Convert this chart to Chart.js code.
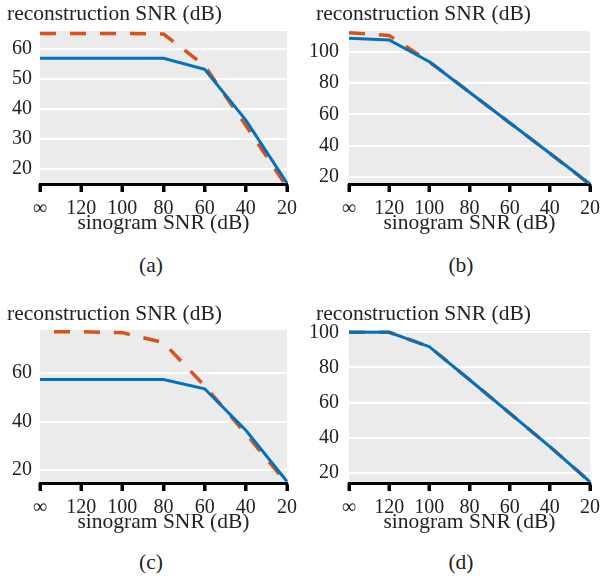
<!DOCTYPE html>
<html>
<head>
<meta charset="utf-8">
<script src="https://cdn.jsdelivr.net/npm/chart.js@4.4.0/dist/chart.umd.min.js"></script>
<style>
  body { margin: 0; background: #fff; }
  #wrap { position: relative; width: 605px; height: 576px; overflow: hidden; }
  .panel { position: absolute; width: 302px; height: 300px; }
  .panel canvas { position: absolute; left: 0; top: 0; }
  .ytitle, .caption {
    position: absolute;
    font-family: "Liberation Serif", "Times New Roman", Tinos, Times, "DejaVu Serif", serif;
    font-size: 21.5px; line-height: 24px; color: #222; white-space: nowrap;
  }
  .caption { width: 60px; text-align: center; }
</style>
</head>
<body>
<div id="wrap">
  <div class="panel" style="left:0;top:0">
    <canvas id="chartA" width="302" height="240"></canvas>
    <div class="ytitle" style="left:7px;top:1px">reconstruction SNR (dB)</div>
    <div class="caption" style="left:121px;top:253px">(a)</div>
  </div>
  <div class="panel" style="left:303px;top:0">
    <canvas id="chartB" width="302" height="240"></canvas>
    <div class="ytitle" style="left:13px;top:1px">reconstruction SNR (dB)</div>
    <div class="caption" style="left:128px;top:253px">(b)</div>
  </div>
  <div class="panel" style="left:0;top:299px">
    <canvas id="chartC" width="302" height="240"></canvas>
    <div class="ytitle" style="left:7px;top:2px">reconstruction SNR (dB)</div>
    <div class="caption" style="left:121px;top:251px">(c)</div>
  </div>
  <div class="panel" style="left:303px;top:299px">
    <canvas id="chartD" width="302" height="240"></canvas>
    <div class="ytitle" style="left:13px;top:2px">reconstruction SNR (dB)</div>
    <div class="caption" style="left:128px;top:251px">(d)</div>
  </div>
</div>
<script>
// sinogram SNR (dB) categories
const sinogramSnr = ['∞', '120', '100', '80', '60', '40', '20'];

// panel (a)
const blueA = [56.9, 56.9, 56.9, 56.9, 53.2, 36.3, 15.3];
const orangeA = [65.2, 65.2, 65.2, 65.0, 54.4, 34.5, 14.0];
const yTicksA = [20, 30, 40, 50, 60];

// panel (b)
const blueB = [108.8, 107.7, 93.8, 74.2, 54.6, 35.0, 15.3];
const orangeB = [112.4, 110.6, 93.8, 74.2, 54.6, 35.0, 15.0];
const yTicksB = [20, 40, 60, 80, 100];

// panel (c)
const blueC = [57.3, 57.3, 57.3, 57.3, 53.5, 36.4, 15.3];
const orangeC = [77.0, 77.0, 76.6, 72.5, 54.7, 35.0, 14.5];
const yTicksC = [20, 40, 60];

// panel (d)
const blueD = [100.0, 100.0, 91.8, 73.0, 54.0, 35.0, 15.0];
const orangeD = [100.0, 100.0, 91.8, 73.0, 54.0, 35.0, 15.0];
const yTicksD = [20, 40, 60, 80, 100];

const SERIF = '"Liberation Serif", "Times New Roman", Tinos, Times, "DejaVu Serif", serif';

// grey plot background
const plotBg = {
  id: 'plotBg',
  beforeDraw(chart) {
    const { ctx, chartArea: a } = chart;
    ctx.save();
    ctx.fillStyle = '#ebebeb';
    ctx.fillRect(a.left, a.top, a.right - a.left, a.bottom - a.top);
    ctx.restore();
  }
};

// heavy black tick marks under the x axis
const xTickMarks = {
  id: 'xTickMarks',
  afterDraw(chart) {
    const { ctx } = chart;
    const x = chart.scales.x;
    ctx.save();
    ctx.strokeStyle = '#000';
    ctx.lineWidth = 3;
    x.ticks.forEach((t, i) => {
      const px = Math.round(x.getPixelForTick(i));
      ctx.beginPath();
      ctx.moveTo(px, x.top);
      ctx.lineTo(px, x.top + 8);
      ctx.stroke();
    });
    ctx.restore();
  }
};

function makeChart(id, blue, orange, yTicks, yMin, yMax, yWidth, rightPad, yPad, dashOffset) {
  const canvasH = 240;
  const plotBottom = 184;
  return new Chart(document.getElementById(id), {
    type: 'line',
    data: {
      labels: sinogramSnr,
      datasets: [
        {
          data: blue,
          borderColor: '#0072bd',
          borderWidth: 3,
          pointRadius: 0,
          tension: 0
        },
        {
          data: orange,
          borderColor: '#d95319',
          borderWidth: 3.5,
          borderDash: [16, 14],
          borderDashOffset: dashOffset,
          pointRadius: 0,
          tension: 0
        }
      ]
    },
    options: {
      responsive: false,
      animation: false,
      layout: { padding: { top: 31, right: rightPad, left: 0, bottom: 0 } },
      plugins: { legend: { display: false }, tooltip: { enabled: false } },
      scales: {
        x: {
          afterFit(scale) { scale.height = canvasH - plotBottom; },
          grid: {
            drawOnChartArea: false,
            drawTicks: true,
            tickLength: 8,
            tickWidth: 3,
            tickColor: '#000'
          },
          border: { display: true, color: '#000', width: 3 },
          ticks: {
            color: '#222',
            padding: 5,
            maxRotation: 0,
            autoSkip: false,
            font: { family: SERIF, size: 20 }
          },
          title: {
            display: true,
            text: 'sinogram SNR (dB)',
            color: '#222',
            padding: { top: 0, bottom: 4 },
            font: { family: SERIF, size: 21.5 }
          }
        },
        y: {
          min: yMin,
          max: yMax,
          afterFit(scale) { scale.width = yWidth; },
          afterBuildTicks(scale) { scale.ticks = yTicks.map(v => ({ value: v })); },
          grid: { color: '#fff', lineWidth: 2, drawTicks: false },
          border: { display: false },
          ticks: {
            color: '#222',
            padding: yPad,
            font: { family: SERIF, size: 20 }
          }
        }
      }
    },
    plugins: [plotBg, xTickMarks]
  });
}

makeChart('chartA', blueA, orangeA, yTicksA, 15, 66, 40, 13, 8, 0);
makeChart('chartB', blueB, orangeB, yTicksB, 15.3, 113.5, 46, 9, 10, 0);
makeChart('chartC', blueC, orangeC, yTicksC, 14.7, 77.7, 40, 13, 8, 16);
makeChart('chartD', blueD, orangeD, yTicksD, 14.3, 101.3, 46, 9, 10, 0);
</script>
</body>
</html>
